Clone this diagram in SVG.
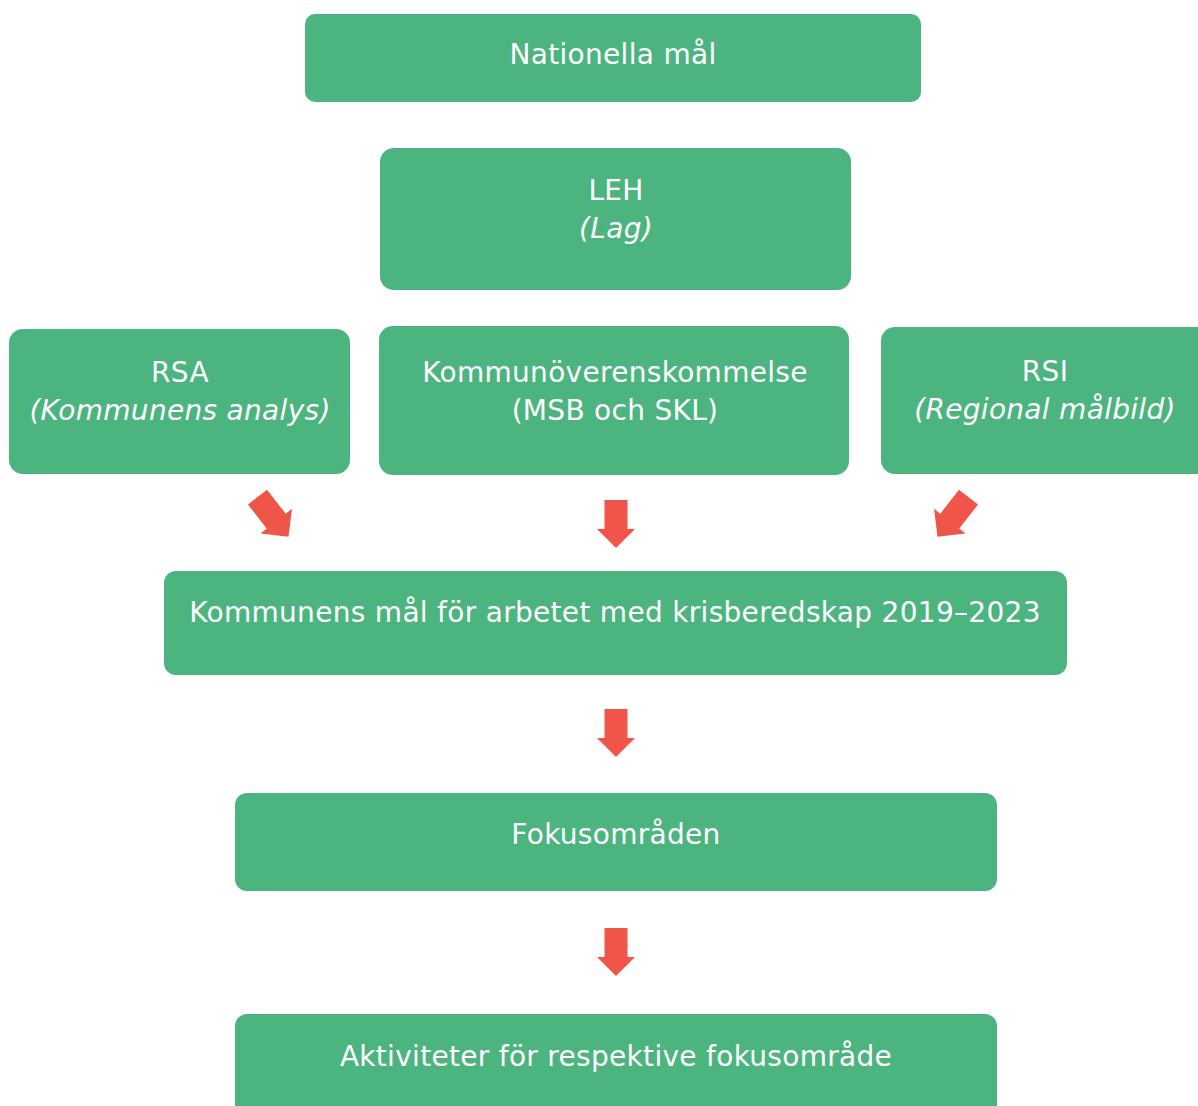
<svg xmlns="http://www.w3.org/2000/svg" xmlns:xlink="http://www.w3.org/1999/xlink" width="1198" height="1106" viewBox="0 0 1198 1106">
<style>
.box{fill:#4CB47E}
.t{font-family:"DejaVu Sans",Verdana,sans-serif;font-size:28px;letter-spacing:0.3px;fill:#ffffff;text-anchor:middle}
.i{font-style:italic}
.arr{fill:#EF5548}
</style>
<defs>
<path id="arrow" d="M-11.5,-24 L11.5,-24 L11.5,5 L19,5 L0,24 L-19,5 L-11.5,5 Z"/>
</defs>
<rect width="1198" height="1106" fill="#ffffff"/>
<g id="n-nationella"><rect class="box" x="305" y="14" width="616" height="88" rx="10"/><text class="t" x="613" y="64">Nationella mål</text></g>
<g id="n-leh"><rect class="box" x="380" y="148" width="471" height="142" rx="14"/><text class="t" x="616" y="200">LEH</text><text class="t i" x="616" y="238">(Lag)</text></g>
<g id="n-rsa"><rect class="box" x="9" y="329" width="341" height="145" rx="14"/><text class="t" x="180" y="382">RSA</text><text class="t i" x="180" y="420">(Kommunens analys)</text></g>
<g id="n-kommun"><rect class="box" x="379" y="326" width="470" height="149" rx="14"/><text class="t" x="615" y="382">Kommunöverenskommelse</text><text class="t" x="615" y="420">(MSB och SKL)</text></g>
<g id="n-rsi"><rect class="box" x="881" y="327" width="330" height="147" rx="14"/><text class="t" x="1045" y="381">RSI</text><text class="t i" x="1045" y="419">(Regional målbild)</text></g>
<g id="n-mal"><rect class="box" x="164" y="571" width="903" height="104" rx="12"/><text class="t" x="615" y="622">Kommunens mål för arbetet med krisberedskap 2019–2023</text></g>
<g id="n-fokus"><rect class="box" x="235" y="793" width="762" height="98" rx="12"/><text class="t" x="616" y="844">Fokusområden</text></g>
<g id="n-aktiviteter"><rect class="box" x="235" y="1014" width="762" height="110" rx="12"/><text class="t" x="616" y="1066">Aktiviteter för respektive fokusområde</text></g>
<g id="connectors" class="arr">
<use xlink:href="#arrow" transform="translate(273,517) rotate(-38) scale(1.05)"/>
<use xlink:href="#arrow" transform="translate(616,524)"/>
<use xlink:href="#arrow" transform="translate(953,517) rotate(38) scale(1.05)"/>
<use xlink:href="#arrow" transform="translate(616,733)"/>
<use xlink:href="#arrow" transform="translate(616,952)"/>
</g>
</svg>
